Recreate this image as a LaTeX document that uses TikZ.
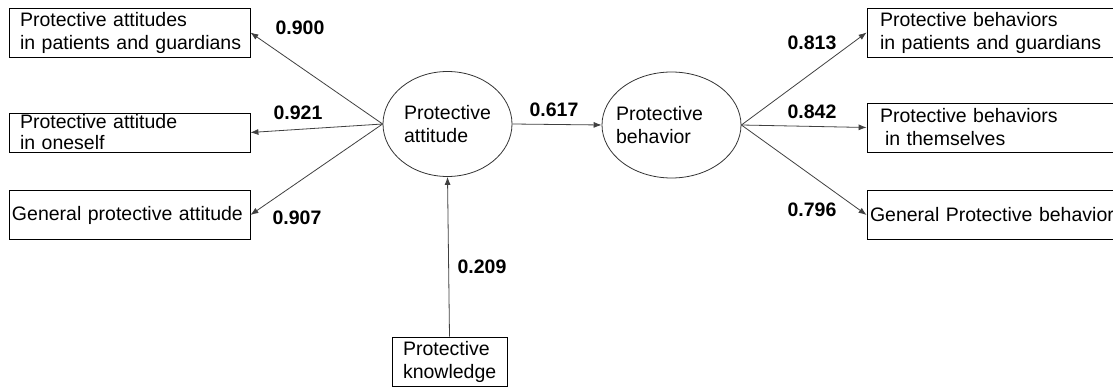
\documentclass[tikz,border=0pt]{standalone}
\usepackage{fontspec}
\setmainfont{Liberation Sans}
\usetikzlibrary{shapes.geometric, arrows.meta}

\begin{document}
\begin{tikzpicture}[
    x=1pt, y=-1pt,
    >={Latex[length=8pt,width=6pt]},
    font=\fontsize{19.5}{23}\selectfont,
    itembox/.style={
        draw=black,
        line width=0.8pt,
        rectangle,
        align=left,
        inner xsep=11pt,
        inner ysep=1pt,
        minimum height=49pt,
        text width=219pt
    },
    latent/.style={
        draw=black!80,
        line width=0.8pt,
        ellipse,
        inner sep=0pt,
        align=left
    },
    link/.style={
        ->,
        draw=black!75,
        line width=0.8pt
    },
    coef/.style={
        font=\fontsize{19.5}{22}\selectfont\bfseries
    }
]

\clip (0,0) rectangle (1113,387);

% =================================================
% LATENT VARIABLES
% =================================================

\node[latent, minimum width=129pt, minimum height=105pt]
    (att) at (447.5,124) {Protective\\attitude};

\node[latent, minimum width=139pt, minimum height=106pt]
    (beh) at (671.5,125)
    {\hspace*{-24pt}Protective\\\hspace*{-24pt}behavior};

% =================================================
% LEFT INDICATORS
% =================================================

\node[itembox] (attpg) at (129.5,32.5)
{Protective attitudes\\\mbox{in patients and guardians}};

\node[itembox, minimum height=39pt, inner ysep=0pt,
      font=\fontsize{19.5}{21}\selectfont] (attself) at (129.5,132.5)
{Protective attitude\\in oneself};

\node[itembox, inner xsep=3pt, text width=235pt] (attgen) at (129.5,215)
{\mbox{General protective attitude}};

% =================================================
% RIGHT INDICATORS
% =================================================

\node[itembox, inner xsep=13pt, text width=227pt] (behpg) at (993.5,32.5)
{Protective behaviors\\\mbox{in patients and guardians}};

\node[itembox, inner xsep=13pt, text width=227pt] (behself) at (993.5,127.5)
{Protective behaviors\\\hspace*{5pt}in themselves};

\node[itembox, inner xsep=3pt, text width=247pt] (behgen) at (993.5,215)
{\mbox{General Protective behavior}};

% Knowledge
\node[itembox, text width=93pt] (know) at (449.5,361.5)
{Protective\\knowledge};

% =================================================
% PATHS
% =================================================

\draw[link] (att.west) -- (attpg.east);
\draw[link] (att.west) -- (attself.east);
\draw[link] (att.west) -- (attgen.east);

\draw[link] (att.east) -- (beh.west);

\draw[link] (beh.east) -- (behpg.west);
\draw[link] (beh.east) -- (behself.west);
\draw[link] (beh.east) -- (behgen.west);

\draw[link] (know.north) -- (att.south);

% Coefficients
\node[coef] (c900) at (300,28)  {0.900};
\node[coef] (c921) at (298,113) {0.921};
\node[coef] (c907) at (297,218) {0.907};
\node[coef] (c617) at (554,110) {0.617};
\node[coef] (c813) at (812,43)  {0.813};
\node[coef] (c842) at (812,112) {0.842};
\node[coef] (c796) at (812,210) {0.796};
\node[coef] (c209) at (482,267) {0.209};

\end{tikzpicture}
\end{document}
